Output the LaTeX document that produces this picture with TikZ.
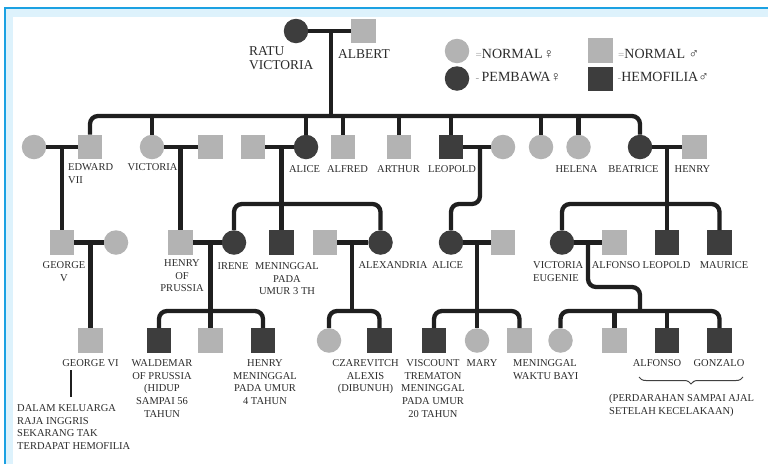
\documentclass[tikz,border=0pt]{standalone}
\usepackage{fontspec}
\setmainfont{Liberation Serif}
\usetikzlibrary{decorations.pathreplacing}

\definecolor{framec}{HTML}{1BA1E2}
\definecolor{bandc}{HTML}{DDF2FC}
\definecolor{normc}{HTML}{B3B3B3}
\definecolor{affc}{HTML}{3D3D3D}
\definecolor{linec}{HTML}{1F1F1F}
\definecolor{txtc}{HTML}{2B2B2B}
\definecolor{markc}{HTML}{A0A0A0}

\tikzset{
  fem/.style={circle, minimum size=24.5pt, inner sep=0pt, fill=#1},
  mal/.style={rectangle, minimum size=24.5pt, inner sep=0pt, fill=#1},
  kin/.style={draw=linec, line width=4.3pt},
  sib/.style={kin, rounded corners=8pt},
  lbl/.style={font=\fontsize{10.5}{12.6}\selectfont, text=txtc, inner sep=0pt, align=center, anchor=north},
  lbll/.style={lbl, align=left, anchor=north west},
  biglbl/.style={font=\fontsize{13.5}{14}\selectfont, text=txtc, inner sep=0pt, align=left, anchor=north west},
  keytxt/.style={font=\fontsize{14}{14}\selectfont, text=txtc, inner sep=0pt, anchor=base west},
}
\newcommand{\keymark}[1]{{\color{markc}\fontsize{11}{11}\selectfont #1}}

\begin{document}
\begin{tikzpicture}[x=1pt,y=-1pt]
\useasboundingbox (0,0) rectangle (768,464);

% page frame
\fill[bandc] (5,7) rectangle (768,16.5);
\fill[bandc] (5,7) rectangle (13,464);
\draw[framec, line width=2pt] (5,464) -- (5,7.5) -- (768,7.5);

% ---------- generation I
\node[fem=affc] (vic) at (296,31) {};
\node[mal=normc] (alb) at (363.5,31) {};

% ---------- generation II
\node[fem=normc] (alx) at (34,147) {};
\node[mal=normc] (edw) at (90,147) {};
\node[fem=normc] (vicd) at (152,147) {};
\node[mal=normc] (fri) at (210.5,147) {};
\node[mal=normc] (lud) at (253,147) {};
\node[fem=affc] (ali) at (306,147) {};
\node[mal=normc] (alf) at (343,147) {};
\node[mal=normc] (art) at (399,147) {};
\node[mal=affc] (leo) at (451,147) {};
\node[fem=normc] (hwd) at (503,147) {};
\node[fem=normc] (lou) at (541,147) {};
\node[fem=normc] (hel) at (578.5,147) {};
\node[fem=affc] (bea) at (640,147) {};
\node[mal=normc] (hen) at (694.5,147) {};

% ---------- generation III
\node[mal=normc] (geo5) at (62,242.5) {};
\node[fem=normc] (mar5) at (116,242.5) {};
\node[mal=normc] (hpr) at (180.5,242.5) {};
\node[fem=affc] (ire) at (234,242.5) {};
\node[mal=affc] (fri3) at (281.5,242.5) {};
\node[mal=normc] (nic) at (325,242.5) {};
\node[fem=affc] (alexa) at (380.5,242.5) {};
\node[fem=affc] (ali3) at (451,242.5) {};
\node[mal=normc] (tec) at (503,242.5) {};
\node[fem=affc] (ena) at (562,242.5) {};
\node[mal=normc] (alfo) at (614.5,242.5) {};
\node[mal=affc] (leo3) at (667,242.5) {};
\node[mal=affc] (mau) at (719.5,242.5) {};

% ---------- generation IV
\node[mal=normc] (geo6) at (90.5,340.5) {};
\node[mal=affc] (wal) at (159,340.5) {};
\node[mal=normc] (sig) at (210.5,340.5) {};
\node[mal=affc] (hen4) at (263,340.5) {};
\node[fem=normc] (ana) at (329,340.5) {};
\node[mal=affc] (cza) at (379.5,340.5) {};
\node[mal=affc] (rup) at (434,340.5) {};
\node[fem=normc] (mary) at (477,340.5) {};
\node[mal=normc] (mau4) at (519.5,340.5) {};
\node[fem=normc] (bea4) at (560.5,340.5) {};
\node[mal=normc] (jai) at (614.5,340.5) {};
\node[mal=affc] (alf4) at (667,340.5) {};
\node[mal=affc] (gon) at (719.5,340.5) {};

% ---------- key
\node[fem=normc] (k1) at (457,51) {};
\node[fem=affc] (k2) at (457,78.5) {};
\node[mal=normc] (k3) at (600.5,50.5) {};
\node[mal=affc] (k4) at (600.5,79) {};
\node[keytxt] (k1t) at (475.5,58) {\keymark{=}NORMAL\kern1pt♀};
\node[keytxt] (k2t) at (475.5,81.5) {\keymark{-}\,PEMBAWA♀};
\node[keytxt] (k3t) at (618,58) {\keymark{=}NORMAL ♂};
\node[keytxt] (k4t) at (617.5,81.5) {\keymark{-}HEMOFILIA♂};

% ---------- marriage points and sibship levels
\coordinate (mVA) at (331,31);
\coordinate (mEA) at (62,147);
\coordinate (mVF) at (180.5,147);
\coordinate (mLA) at (281.5,147);
\coordinate (mLH) at (480,147);
\coordinate (mBH) at (667,147);
\coordinate (mGM) at (90.5,242.5);
\coordinate (mHI) at (210.5,242.5);
\coordinate (mNA) at (352,242.5);
\coordinate (mAT) at (477,242.5);
\coordinate (mEN) at (588,242.5);
\coordinate (kEN) at (640,287);
\coordinate (s2) at (0,116);
\coordinate (s3) at (0,204);
\coordinate (s4) at (0,311);

% ---------- marriages
\draw[kin] (vic) -- (alb);
\draw[kin] (alx) -- (edw);
\draw[kin] (vicd) -- (fri);
\draw[kin] (lud) -- (ali);
\draw[kin] (leo) -- (hwd);
\draw[kin] (bea) -- (hen);
\draw[kin] (geo5) -- (mar5);
\draw[kin] (hpr) -- (ire);
\draw[kin] (nic) -- (alexa);
\draw[kin] (ali3) -- (tec);
\draw[kin] (ena) -- (alfo);

% ---------- descent: Victoria and Albert
\draw[kin] (mVA) -- (mVA |- s2);
\draw[sib] (edw.north) -- (edw.north |- s2) -- (bea.north |- s2) -- (bea.north);
\foreach \c in {vicd, ali, alf, art, leo, lou, hel}
  \draw[kin] (\c.north) -- (\c.north |- s2);

% ---------- descent: generation II families
\draw[kin] (mEA) -- (geo5.north);
\draw[kin] (mVF) -- (hpr.north);
\draw[kin] (mLA) -- (fri3.north);
\draw[sib] (ire.north) -- (ire.north |- s3) -- (alexa.north |- s3) -- (alexa.north);
\draw[sib] (mLH) -- (mLH |- s3) -- (ali3.north |- s3) -- (ali3.north);
\draw[kin] (mBH) -- (leo3.north);
\draw[sib] (ena.north) -- (ena.north |- s3) -- (mau.north |- s3) -- (mau.north);

% ---------- descent: generation III families
\draw[kin] (mGM) -- (geo6.north);
\draw[kin] (mHI) -- (sig.north);
\draw[sib] (wal.north) -- (wal.north |- s4) -- (hen4.north |- s4) -- (hen4.north);
\draw[kin] (mNA) -- (mNA |- s4);
\draw[sib] (ana.north) -- (ana.north |- s4) -- (cza.north |- s4) -- (cza.north);
\draw[kin] (mAT) -- (mary.north);
\draw[sib] (rup.north) -- (rup.north |- s4) -- (mau4.north |- s4) -- (mau4.north);
\draw[sib] (mEN) -- (mEN |- kEN) -- (kEN) -- (kEN |- s4);
\draw[sib] (bea4.north) -- (bea4.north |- s4) -- (gon.north |- s4) -- (gon.north);
\foreach \c in {jai, alf4}
  \draw[kin] (\c.north) -- (\c.north |- s4);

% ---------- names, generation I
\node[biglbl] (lvic) at (249,46) {RATU\\VICTORIA};
\node[biglbl] (lalb) at (338,49.5) {ALBERT};

% ---------- names, generation II
\node[lbll] (ledw) at (68,163.5) {EDWARD\\VII};
\node[lbl] (lvicd) at (152.5,163.5) {VICTORIA};
\node[lbl] (lali) at (304.5,165.5) {ALICE};
\node[lbl] (lalf) at (347.5,165.5) {ALFRED};
\node[lbl] (lart) at (398.5,165.5) {ARTHUR};
\node[lbl] (lleo) at (452,165.5) {LEOPOLD};
\node[lbl] (lhel) at (576.5,165.5) {HELENA};
\node[lbl] (lbea) at (633.5,165.5) {BEATRICE};
\node[lbl] (lhen) at (692.5,165.5) {HENRY};

% ---------- names, generation III
\node[lbl] (lgeo5) at (64,261.5) {GEORGE\\V};
\node[lbl] (lhpr) at (182,259.5) {HENRY\\OF\\PRUSSIA};
\node[lbl] (lire) at (233,262.5) {IRENE};
\node[lbl] (lfri3) at (287,262.5) {MENINGGAL\\PADA\\UMUR 3 TH};
\node[lbl] (lalexa) at (393,261.5) {ALEXANDRIA};
\node[lbl] (lali3) at (447.5,261.5) {ALICE};
\node[lbll] (lena) at (533,261.5) {VICTORIA\\EUGENIE};
\node[lbl] (lalfo) at (616,261.5) {ALFONSO};
\node[lbl] (lleo3) at (666.5,261.5) {LEOPOLD};
\node[lbl] (lmau) at (724,261.5) {MAURICE};

% ---------- names, generation IV
\node[lbl] (lgeo6) at (90.5,359.5) {GEORGE VI};
\node[lbl] (lwal) at (162,359.5) {WALDEMAR\\OF PRUSSIA\\(HIDUP\\SAMPAI 56\\TAHUN};
\node[lbl] (lhen4) at (265,359.5) {HENRY\\MENINGGAL\\PADA UMUR\\4 TAHUN};
\node[lbl] (lcza) at (365.5,359.5) {CZAREVITCH\\ALEXIS\\(DIBUNUH)};
\node[lbl] (lrup) at (433,359.5) {VISCOUNT\\TREMATON\\MENINGGAL\\PADA UMUR\\20 TAHUN};
\node[lbl] (lmary) at (482,359.5) {MARY};
\node[lbll] (lmau4) at (513,359.5) {MENINGGAL\\WAKTU BAYI};
\node[lbl] (lalf4) at (657,359.5) {ALFONSO};
\node[lbl] (lgon) at (719,359.5) {GONZALO};

% ---------- notes
\node[lbll] (note) at (17,404.5) {DALAM KELUARGA\\RAJA INGGRIS\\SEKARANG TAK\\TERDAPAT HEMOFILIA};
\coordinate (nt1) at (71,370);
\coordinate (nt2) at (71,397);
\draw[linec, line width=1.3pt] (nt1) -- (nt2);

\coordinate (br1) at (639,377);
\coordinate (br2) at (743,377);
\draw[linec!85, line width=1pt, decorate, decoration={brace, amplitude=7pt, mirror}] (br1) -- (br2);
\node[lbll] (lbr) at (609,394) {(PERDARAHAN SAMPAI AJAL\\SETELAH KECELAKAAN)};

\end{tikzpicture}
\end{document}
